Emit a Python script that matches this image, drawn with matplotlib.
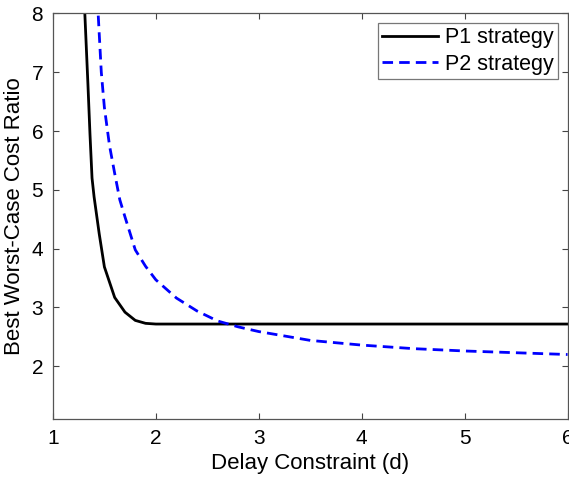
import numpy as np
import matplotlib
matplotlib.use("Agg")
import matplotlib.pyplot as plt

plt.rcParams['font.family'] = ['Liberation Sans', 'DejaVu Sans']

# P1 strategy
p1_d = [1.30, 1.32, 1.34, 1.36, 1.38, 1.40, 1.45, 1.50, 1.60, 1.70, 1.80, 1.90, 2.00, 3.0, 4.0, 5.0, 6.0]
p1_ratio = [8.4, 7.6, 6.8, 5.95, 5.2, 4.88, 4.25, 3.69, 3.17, 2.92, 2.78, 2.73, 2.718, 2.718, 2.718, 2.718, 2.718]

# P2 strategy
p2_d = [1.43, 1.47, 1.50, 1.55, 1.60, 1.65, 1.70, 1.80, 1.90, 2.0, 2.2, 2.4, 2.6, 2.8, 3.0, 3.5, 4.0, 4.5, 5.0, 5.5, 6.0]
p2_ratio = [8.3, 7.0, 6.4, 5.75, 5.28, 4.83, 4.54, 3.98, 3.70, 3.47, 3.16, 2.94, 2.77, 2.67, 2.59, 2.44, 2.36, 2.30, 2.26, 2.23, 2.20]

xticks = [1, 2, 3, 4, 5, 6]
yticks = [2, 3, 4, 5, 6, 7, 8]

fig = plt.figure(figsize=(5.69, 4.78), dpi=100)
ax = fig.add_axes([0.093, 0.123, 0.9045, 0.849])

ax.plot(p1_d, p1_ratio, color='k', linewidth=2.0, label='P1 strategy')
ax.plot(p2_d, p2_ratio, color='#0000ff', linewidth=2.0, linestyle=(0, (3.8, 2.2)),
        label='P2 strategy')

ax.set_xlim(1, 6)
ax.set_ylim(1.1, 8)
ax.set_xticks(xticks)
ax.set_yticks(yticks)
ax.tick_params(direction='in', length=4, width=0.8, top=True, right=True,
               labelsize=15, colors='#444444', labelcolor='k', pad=7)
for s in ax.spines.values():
    s.set_color('#555555')
    s.set_linewidth(0.9)

ax.set_xlabel('Delay Constraint (d)', fontsize=16, labelpad=4)
ax.set_ylabel('Best Worst-Case Cost Ratio', fontsize=16, labelpad=5)

leg = ax.legend(loc='upper right', fontsize=15.5, frameon=True, fancybox=False,
                edgecolor='#555555', borderpad=0.2, handlelength=2.6,
                handletextpad=0.3, labelspacing=0.25, borderaxespad=0.45)
leg.get_frame().set_linewidth(0.9)

fig.savefig('out.png', dpi=100)
